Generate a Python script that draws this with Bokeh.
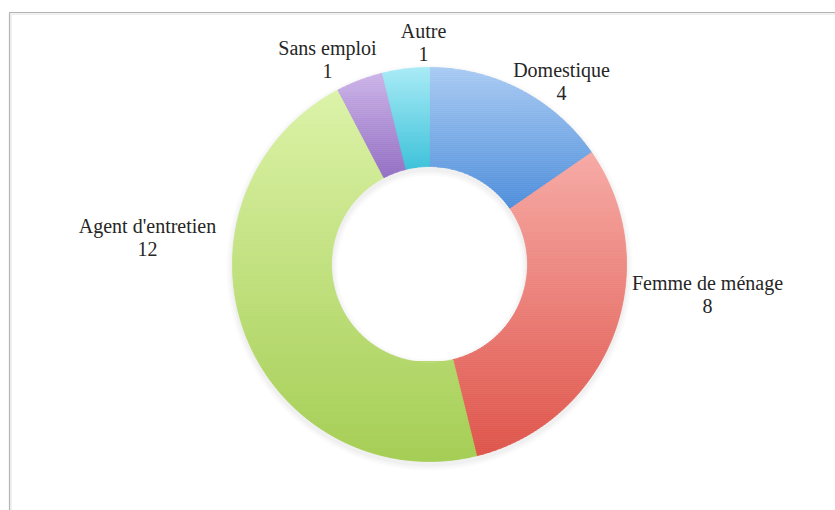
import numpy as np
from bokeh.plotting import figure
from bokeh.models import Range1d
from bokeh.core.properties import value
from bokeh.embed import file_html
from bokeh.resources import INLINE

# ---- data ----
categories = ["Domestique", "Femme de ménage", "Agent d'entretien", "Sans emploi", "Autre"]
counts = [4, 8, 12, 1, 1]
top_colors = ["#a9cbf3", "#f7aaa5", "#dcf3a8", "#ccb4e8", "#a8ebf6"]
bottom_colors = ["#4e8edb", "#df554b", "#a5ce55", "#9470c4", "#3dc2da"]

# ---- layout (page pixel coordinates) ----
OX, OY = 0, 0
W, H = 835, 510
CX, CY = 429, 264
R_OUT, R_IN = 197, 98
label_pos = [(561, 69), (707, 282), (147, 225), (327, 47), (423, 30)]
LINE = 23
FONT = "Liberation Serif"
FSIZE = "20px"


def ty(y):
    return 2 * OY + H - y


p = figure(width=W, height=H, x_range=Range1d(OX, OX + W), y_range=Range1d(OY, OY + H),
           output_backend="svg", toolbar_location=None, min_border=0)
p.xaxis.visible = False
p.yaxis.visible = False
p.grid.visible = False
p.outline_line_color = None
p.background_fill_color = "white"
p.border_fill_color = "white"

# frame of the original chart area (only its top and left edges are visible)
p.multi_line(xs=[[9, 9, OX + W + 40]], ys=[[ty(600), ty(12), ty(12)]],
             line_color="#b4b4b4", line_width=1.2)
p.multi_line(xs=[[10.5, 10.5, OX + W + 40]], ys=[[ty(600), ty(13.5), ty(13.5)]],
             line_color="#e2e2e2", line_width=1)

# soft shadow
for k, a in zip([6, 4, 2], [0.03, 0.04, 0.05]):
    p.annulus(x=[CX], y=[ty(CY) - 3], inner_radius=R_IN - k, outer_radius=R_OUT + k,
              fill_color="#808080", fill_alpha=a, line_color=None)


def hexrgb(h):
    return np.array([int(h[i:i + 2], 16) for i in (1, 3, 5)], dtype=float)


def clip_half(pts, keep, c):
    out = []
    n = len(pts)
    for i in range(n):
        cur = pts[i]
        prev = pts[i - 1]
        cin, pin = keep(cur), keep(prev)
        if cin != pin:
            t = (c - prev[1]) / (cur[1] - prev[1])
            out.append((prev[0] + t * (cur[0] - prev[0]), c))
        if cin:
            out.append(cur)
    return out


total = sum(counts)
cum = np.concatenate([[0], np.cumsum(counts)])
xs_all, ys_all, cols = [], [], []
for i, cnt in enumerate(counts):
    a0 = np.pi / 2 - 2 * np.pi * cum[i] / total
    a1 = np.pi / 2 - 2 * np.pi * cum[i + 1] / total
    n = max(8, int(abs(a0 - a1) * 60))
    ang = np.linspace(a0, a1, n)
    ox = CX + R_OUT * np.cos(ang)
    oy = ty(CY) + R_OUT * np.sin(ang)
    ix = CX + R_IN * np.cos(ang[::-1])
    iy = ty(CY) + R_IN * np.sin(ang[::-1])
    poly = list(zip(np.concatenate([ox, ix]), np.concatenate([oy, iy])))
    ymin = min(pt[1] for pt in poly)
    ymax = max(pt[1] for pt in poly)
    c_top, c_bot = hexrgb(top_colors[i]), hexrgb(bottom_colors[i])
    step = 2.0
    y = ymin
    while y < ymax:
        y2 = min(y + step, ymax)
        part = clip_half(poly, lambda q, c=y: q[1] >= c, y)
        part = clip_half(part, lambda q, c=y2: q[1] <= c, y2) if part else []
        if len(part) >= 3:
            t = (ymax - (y + y2) / 2) / (ymax - ymin)
            rgb = c_top + (c_bot - c_top) * t
            col = "#%02x%02x%02x" % tuple(int(round(v)) for v in rgb)
            xs_all.append([q[0] for q in part])
            ys_all.append([q[1] for q in part])
            cols.append(col)
        y = y2

p.patches(xs=xs_all, ys=ys_all, fill_color=cols, line_color=cols, line_width=0.8)

# labels
lx = [pos[0] for pos in label_pos]
ly1 = [ty(pos[1]) for pos in label_pos]
ly2 = [ty(pos[1] + LINE) for pos in label_pos]
p.text(x=lx, y=ly1, text=categories, text_font=value(FONT), text_font_size=FSIZE,
       text_align="center", text_baseline="alphabetic", text_color="#262626")
p.text(x=lx, y=ly2, text=[str(c) for c in counts], text_font=value(FONT), text_font_size=FSIZE,
       text_align="center", text_baseline="alphabetic", text_color="#262626")

open("out.html", "w").write(file_html(p, INLINE))
